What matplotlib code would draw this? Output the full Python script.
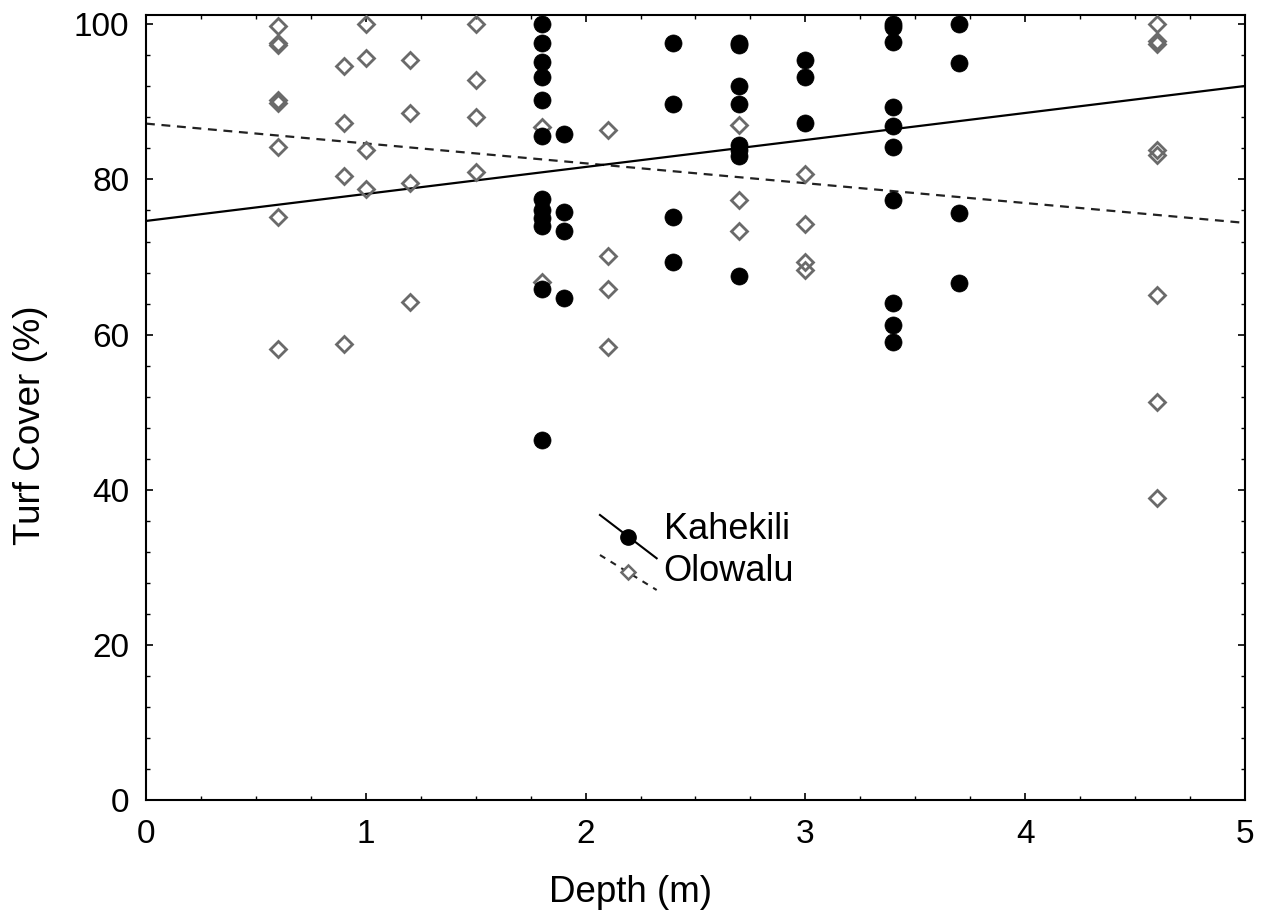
import numpy as np
import matplotlib
matplotlib.use('Agg')
import matplotlib.pyplot as plt

plt.rcParams['font.family'] = ['Liberation Sans', 'DejaVu Sans']

# Kahekili transects (depth in m, turf cover in %)
kah_depth = [1.8]*12 + [1.9]*4 + [2.4]*4 + [2.7]*8 + [3.0]*3 + [3.4]*10 + [3.7]*4
kah_cover = [100, 97.6, 95.1, 93.2, 90.3, 85.6, 77.5, 76.0, 75.0, 74.0, 65.9, 46.4,
             85.8, 75.8, 73.4, 64.7,
             97.6, 89.7, 75.2, 69.4,
             97.6, 97.3, 92.1, 89.7, 84.4, 83.8, 83.0, 67.5,
             95.4, 93.2, 87.3,
             100, 99.6, 97.7, 89.3, 86.9, 84.2, 77.3, 64.1, 61.3, 59.1,
             100, 95.0, 75.7, 66.7]

# Olowalu transects
olo_depth = [0.6]*8 + [0.9]*4 + [1.0]*4 + [1.2]*4 + [1.5]*4 + [1.8]*2 + [2.1]*4 + [2.7]*3 + [3.0]*4 + [4.6]*8
olo_cover = [99.8, 97.6, 97.3, 90.2, 89.8, 84.2, 75.1, 58.2,
             94.6, 87.3, 80.4, 58.8,
             100, 95.7, 83.8, 78.8,
             95.4, 88.6, 79.5, 64.2,
             100, 92.8, 88.0, 81.0,
             86.8, 66.8,
             86.4, 70.1, 65.9, 58.4,
             87.0, 77.4, 73.4,
             80.7, 74.3, 69.4, 68.3,
             100, 97.8, 97.5, 83.8, 83.1, 65.1, 51.3, 38.9]

# linear fits (intercept, slope)
kah_fit = (74.65, 3.48)
olo_fit = (87.2, -2.56)

fig = plt.figure(figsize=(12.67, 9.21), dpi=100)
ax = fig.add_axes([0.1152, 0.1314, 0.8674, 0.8523])

xx = np.array([0, 5])
ax.plot(xx, olo_fit[0] + olo_fit[1]*xx, color='#222222', lw=1.6, ls=(0, (4, 3)), zorder=2)
ax.plot(xx, kah_fit[0] + kah_fit[1]*xx, color='black', lw=1.6, zorder=2)

ax.plot(olo_depth, olo_cover, ls='none', marker='D', ms=8.4, mfc='none',
        mec='#6a6a6a', mew=2, zorder=3)
ax.plot(kah_depth, kah_cover, ls='none', marker='o', ms=12.3, mfc='black',
        mec='black', mew=0.5, zorder=4)

# legend with slanted line samples
tr = ax.transAxes
ax.plot([0.4131, 0.4647], [0.3631, 0.3079], color='black', lw=1.5, transform=tr, clip_on=False)
ax.plot([0.4389], [0.3355], marker='o', ms=11, color='black', transform=tr, clip_on=False)
ax.text(0.4710, 0.3452, 'Kahekili', transform=tr, fontsize=26, va='center', ha='left')
ax.plot([0.4131, 0.4647], [0.3121, 0.2675], color='#222222', lw=1.5, ls=(0, (3, 3)),
        transform=tr, clip_on=False)
ax.plot([0.4389], [0.2898], marker='D', ms=7, mfc='white', mec='#6a6a6a', mew=1.8,
        transform=tr, clip_on=False)
ax.text(0.4710, 0.2908, 'Olowalu', transform=tr, fontsize=26, va='center', ha='left')

ax.set_xlim(0, 5)
ax.set_ylim(0, 101.2)
ax.set_xticks(np.arange(0, 6, 1))
ax.set_yticks(np.arange(0, 101, 20))
ax.set_xticks(np.arange(0, 5.01, 0.25), minor=True)
ax.set_yticks(np.arange(0, 101, 4), minor=True)
ax.tick_params(which='both', direction='in', top=True, right=True, labelsize=24)
ax.tick_params(which='major', length=5, width=1.2)
ax.tick_params(which='minor', length=3, width=1)
ax.tick_params(axis='x', pad=14)
ax.tick_params(axis='y', pad=12)
for s in ax.spines.values():
    s.set_linewidth(1.5)

ax.set_xlabel('Depth (m)', fontsize=26.5)
ax.set_ylabel('Turf Cover (%)', fontsize=26.5)
ax.xaxis.set_label_coords(0.441, -0.095)
ax.yaxis.set_label_coords(-0.089, 0.478)

fig.savefig('out.png', dpi=100)
